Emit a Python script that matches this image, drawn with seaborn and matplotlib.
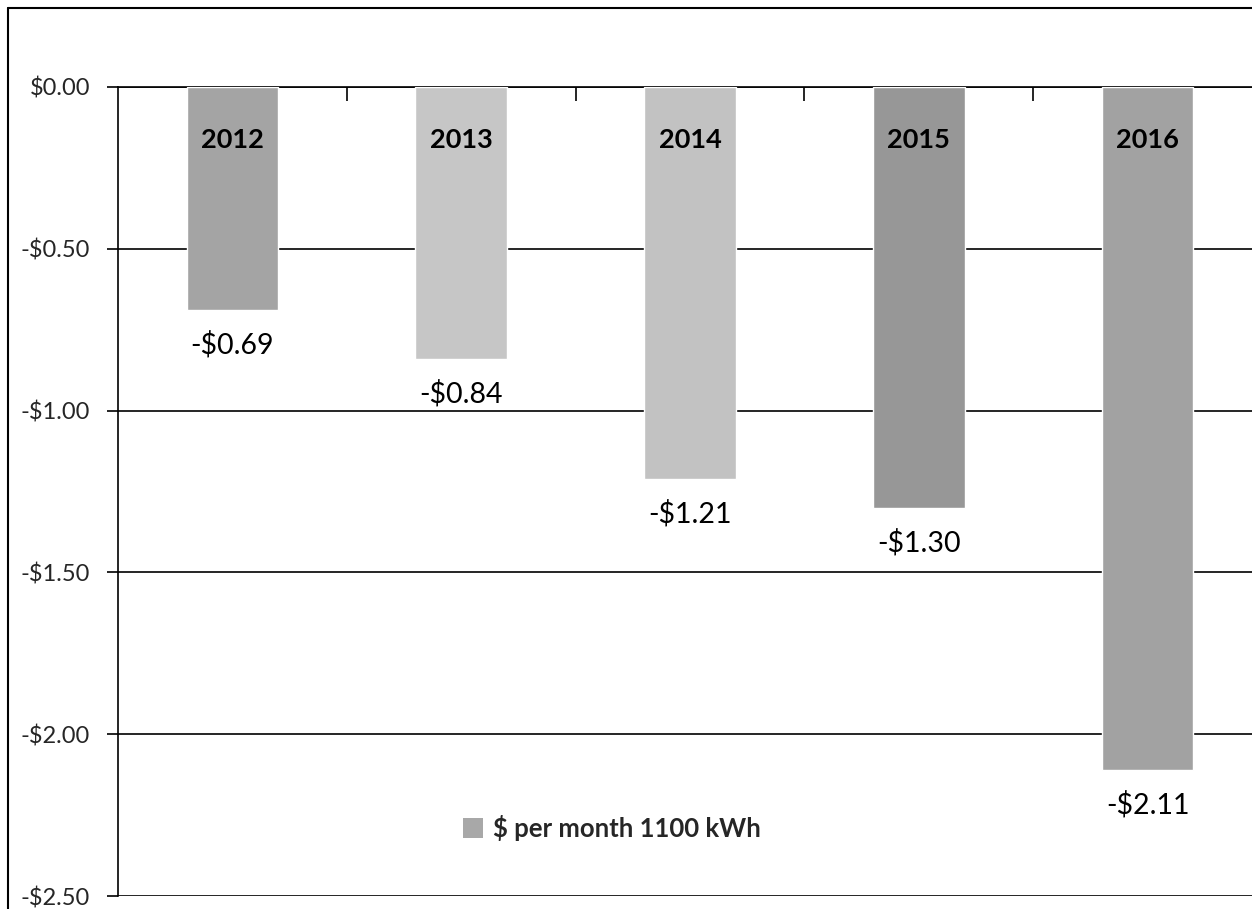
import matplotlib
matplotlib.use("Agg")
import matplotlib.pyplot as plt
import seaborn as sns
import pandas as pd
from matplotlib.patches import Patch
from matplotlib.lines import Line2D

# data
years = ['2012', '2013', '2014', '2015', '2016']
savings = [-0.69, -0.84, -1.21, -1.30, -2.11]
bar_colors = ['#a4a4a4', '#c6c6c6', '#c2c2c2', '#979797', '#a2a2a2']
y_ticks = [0.0, -0.5, -1.0, -1.5, -2.0, -2.5]
legend_label = '$ per month 1100 kWh'

sns.set_theme(style='white')
plt.rcParams['font.family'] = ['Lato', 'DejaVu Sans']

df = pd.DataFrame({'year': years, 'value': savings})

fig = plt.figure(figsize=(12.52, 9.09), dpi=100)
# plot area in pixels: left 118, zero line at 87, -2.5 at 896; runs past right edge
ax = fig.add_axes([118 / 1252, 13 / 909, 1144 / 1252, 809 / 909])

sns.barplot(data=df, x='year', y='value', hue='year', palette=bar_colors,
            width=0.4, legend=False, ax=ax, saturation=1, zorder=3)

ax.set_ylim(-2.5, 0)
ax.set_xlim(-0.5, 4.5)
ax.set_yticks(y_ticks)
ax.set_yticklabels([f'-${abs(v):.2f}' if v < 0 else f'${v:.2f}' for v in y_ticks],
                   fontsize=17)
ax.grid(axis='y', color='black', linewidth=1.2, zorder=0)
ax.set_axisbelow(True)
ax.set_xlabel('')
ax.set_ylabel('')

# category axis at the zero line, tick marks between categories
ax.xaxis.set_ticks_position('top')
ax.set_xticks([0.5, 1.5, 2.5, 3.5])
ax.set_xticklabels([])
ax.tick_params(axis='x', direction='in', length=10, width=1.2, color='black')
ax.tick_params(axis='y', direction='out', length=8, width=1.2, color='black',
               left=True, pad=12)

for side in ['right', 'bottom']:
    ax.spines[side].set_visible(False)
ax.spines['left'].set_color('black')
ax.spines['left'].set_linewidth(1.2)
ax.spines['top'].set_color('black')
ax.spines['top'].set_linewidth(1.2)

for i, (yr, v) in enumerate(zip(years, savings)):
    ax.annotate(yr, (i, 0), xytext=(0, -38), textcoords='offset points',
                ha='center', va='center', fontsize=19.5, fontweight='bold',
                color='black', zorder=5)
    ax.annotate(f'-${abs(v):.2f}', (i, v), xytext=(0, -25), textcoords='offset points',
                ha='center', va='center', fontsize=20.5, color='black', zorder=5)

handles = [Patch(facecolor='#a8a8a8', edgecolor='none')]
ax.legend(handles, [legend_label], loc='center',
          bbox_to_anchor=((612 - 118) / 1144, (909 - 828 - 13) / 809),
          frameon=False, prop={'size': 18.5, 'weight': 'bold'},
          handlelength=0.8, handleheight=0.8, handletextpad=0.4)

# outer chart frame
fig.add_artist(Line2D([8 / 1252, 8 / 1252], [0, 1 - 8 / 909], color='black', linewidth=1.5))
fig.add_artist(Line2D([8 / 1252, 1], [1 - 8 / 909, 1 - 8 / 909], color='black', linewidth=1.5))

fig.savefig('out.png', dpi=100)
